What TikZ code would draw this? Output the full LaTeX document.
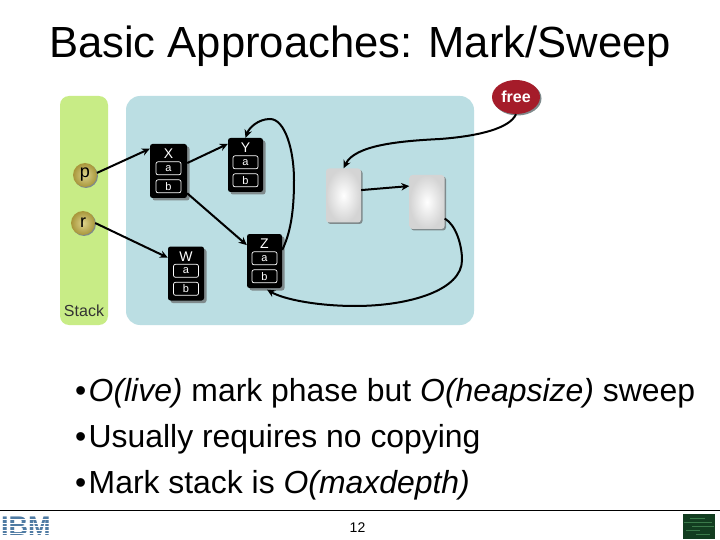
\documentclass[tikz,border=0pt]{standalone}
\usepackage{fontspec}
\setmainfont{Liberation Sans}
\usetikzlibrary{arrows.meta,shadows,shapes.geometric}
\definecolor{stackgreen}{HTML}{C8EC86}
\definecolor{heapblue}{HTML}{BBDEE3}
\definecolor{freered}{HTML}{A51C2A}
\definecolor{shadowgray}{HTML}{7F8A8C}
\definecolor{ibmblue}{HTML}{4F7BA3}
\definecolor{thumbdark}{HTML}{123D20}
\definecolor{thumblight}{HTML}{3A7A4A}
\definecolor{ballin}{HTML}{DDD38C}
\definecolor{ballout}{HTML}{A8963A}
\tikzset{
  x=1pt,y=-1pt,
  conn/.style={line width=2pt,-{Stealth[length=8pt,width=7.5pt]}},
  objbox/.style={fill=black,rounded corners=2.5pt,minimum width=36pt,minimum height=54pt,inner sep=0pt,
    drop shadow={shadow xshift=2.5pt,shadow yshift=-2.5pt,fill=shadowgray,opacity=1}},
  objname/.style={text=white,font=\fontsize{14}{14}\selectfont,inner sep=0pt},
  field/.style={draw=white,line width=.7pt,fill=black,text=white,rounded corners=2pt,minimum width=25pt,minimum height=13pt,inner sep=0pt,font=\fontsize{11}{11}\selectfont},
  blank/.style={rounded corners=3pt,minimum width=35pt,minimum height=54pt,inner sep=0pt,shading=radial,inner color=white,outer color=black!17,
    drop shadow={shadow xshift=1.5pt,shadow yshift=-1.5pt,fill=shadowgray,opacity=1}},
  ball/.style={circle,minimum size=24pt,inner sep=0pt,shading=radial,inner color=ballin,outer color=ballout,
    font=\fontsize{18}{18}\selectfont,
    drop shadow={shadow xshift=1pt,shadow yshift=-1pt,fill=shadowgray,opacity=1}},
  bullet/.style={anchor=base west,inner sep=0pt,font=\fontsize{31.9}{32}\selectfont},
  region/.style={rounded corners=9pt,inner sep=0pt},
  logobar/.style={fill=white,draw=none}
}
\newcommand{\objnode}[4]{%
  \node[objbox,minimum width=#4] (#1) at (#2) {};
  \node[objname] (#1name) at ([yshift=-10pt]#1.north) {#3};
  \node[field] (#1a) at ([yshift=-24.5pt]#1.north) {a};
  \node[field] (#1b) at ([yshift=-42.5pt]#1.north) {b};
}
\begin{document}
\begin{tikzpicture}
\useasboundingbox (0,0) rectangle (720,540);
\fill[white] (0,0) rectangle (720,540);
\node[anchor=base,inner sep=0pt,font=\fontsize{43.6}{44}\selectfont] (title) at (360,58) {Basic Approaches: Mark/Sweep};
% regions
\node[region,fill=stackgreen,minimum width=48pt,minimum height=229pt] (stack) at (84,210.5) {};
\node[region,fill=heapblue,rounded corners=14pt,minimum width=348pt,minimum height=229pt] (heap) at (300,210.5) {};
\node[inner sep=0pt,font=\fontsize{16}{16}\selectfont,text=black!80] (stacklabel) at (84,311) {Stack};
% objects
\objnode{X}{168.5,171}{X}{37pt}
\objnode{Y}{245.5,165}{Y}{35pt}
\objnode{W}{186,273.5}{W}{36pt}
\objnode{Z}{264.5,261}{Z}{35pt}
\node[blank] (B1) at (343.5,195.5) {};
\node[blank] (B2) at (427,202) {};
\node[ball] (p) at (85,175) {p};
\node[ball] (r) at (83,223) {r};
\node[ellipse,fill=freered,minimum width=48pt,minimum height=34pt,inner sep=0pt,text=white,
  font=\fontsize{16}{16}\selectfont\bfseries,
  drop shadow={shadow xshift=1.5pt,shadow yshift=-1.5pt,fill=shadowgray,opacity=1}] (free) at (516,97) {free};
% connectors
\draw[conn] (p.10) -- (X.130);
\draw[conn] (X.23) -- (Y.130);
\draw[conn] (X.-50) -- (Z.138);
\draw[conn] (r.0) -- (W.139);
\draw[conn] (Z.32) .. controls (292,230) and (294,205) .. (294,180) .. controls (294,150) and (285,119) .. (270,119) .. controls (258,119) and (249,128) .. (Y.north);
\draw[conn] (free.south) .. controls (510,128) and (480,136) .. (440,139) .. controls (400,141) and (355,145) .. (B1.north);
\draw[conn] (B1.17) -- (B2.138);
\draw[conn,shorten >=3pt] (B2.-43) .. controls (456,225) and (462,245) .. (462,260) .. controls (462,290) and (410,306) .. (355,306) .. controls (320,306) and (285,300) .. (Z.south);
% bullets
\node[bullet] (b1) at (75,401) {•};
\node[bullet] (t1) at (88.5,401) {\itshape O(live)\upshape{} mark phase but \itshape O(heapsize)\upshape{} sweep};
\node[bullet] (b2) at (75,447) {•};
\node[bullet] (t2) at (88.5,447) {Usually requires no copying};
\node[bullet] (b3) at (75,493) {•};
\node[bullet] (t3) at (88.5,493) {Mark stack is \itshape O(maxdepth)};
% footer
\draw[line width=1pt] (0,510.5) -- (720,510.5);
\node[inner sep=0pt,font=\fontsize{14}{14}\selectfont] (page) at (357.5,528) {12};
\node[inner sep=0pt,anchor=base west,text=ibmblue,font=\fontsize{27}{27}\selectfont\bfseries] (ibm) at (1,535) {IBM};
\foreach \y in {519,522.5,526,529.5,533}{\fill[logobar] (0,\y) rectangle (58,\y+1.2);}
\node[fill=thumbdark,minimum width=32pt,minimum height=25pt,inner sep=0pt] (thumb) at (699,526.5) {};
\foreach \y/\a/\b in {518/690/705,522/684/712,526/692/714,530/686/700,534/696/710}{\draw[thumblight,line width=1pt] (\a,\y) -- (\b,\y);}
\end{tikzpicture}
\end{document}
